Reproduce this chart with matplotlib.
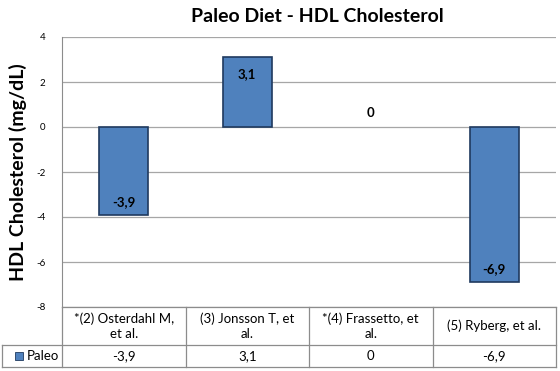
import numpy as np
import matplotlib as mpl
mpl.use('Agg')
from matplotlib import pyplot as plt
from matplotlib.lines import Line2D
from matplotlib.patches import Rectangle

mpl.rcParams['font.family'] = ['Lato', 'DejaVu Sans']

studies = ['*(2) Osterdahl M,\net al.', '(3) Jonsson T, et\nal.', '*(4) Frassetto, et\nal.', '(5) Ryberg, et al.']
paleo = [-3.9, 3.1, 0.0, -6.9]
yticks = [-8, -6, -4, -2, 0, 2, 4]

W, H = 560, 371
def fx(px): return px / W
def fy(py): return 1 - py / H

def fmt(v):
	return '0' if v == 0 else ('%.1f' % v).replace('.', ',')

fig = plt.figure(figsize=(5.6, 3.71), dpi=100)
left, right, top, bottom = 62, 556, 37, 307
ax = fig.add_axes([fx(left), fy(bottom), fx(right - left), (bottom - top) / H])

x = np.arange(len(paleo))
bars = ax.bar(x, paleo, width=0.4, color='#4f81bd', edgecolor='#1f3a5f', lw=1.2, zorder=3)
for b, v in zip(bars, paleo):
	xc = b.get_x() + b.get_width()/2
	if v == 0:
		b.set_linewidth(0)
		off = 14
	elif v > 0:
		off = -17
	else:
		off = 13
	ax.annotate(fmt(v), (xc, v), xytext=(0, off), textcoords='offset pixels',
		ha='center', va='center', fontsize=9.5, fontweight='bold', zorder=4)

ax.set_xlim(-0.5, len(paleo) - 0.5)
ax.set_ylim(-8, 4)
ax.set_yticks(yticks)
ax.set_yticklabels([str(t) for t in yticks], fontsize=7)
ax.tick_params(axis='y', length=0, pad=12)
ax.set_xticks([])
ax.yaxis.grid(True, color='#a6a6a6', lw=0.9)
ax.set_axisbelow(True)
for s in ['top', 'right', 'bottom']:
	ax.spines[s].set_visible(False)
ax.spines['left'].set_color('#8c8c8c')

fig.text(fx(317), fy(16), 'Paleo Diet - HDL Cholesterol', ha='center', va='center', fontsize=14, fontweight='bold')
fig.text(fx(18), fy(172), 'HDL Cholesterol (mg/dL)', ha='center', va='center', rotation=90, fontsize=14, fontweight='bold')

# data table below the plot
row1, row2, row3 = 307, 345, 367
colw = (right - left) / len(paleo)
lc = '#8c8c8c'
def hline(y, x0, x1):
	fig.add_artist(Line2D([fx(x0), fx(x1)], [fy(y), fy(y)], color=lc, lw=0.9))
def vline(xp, y0, y1):
	fig.add_artist(Line2D([fx(xp), fx(xp)], [fy(y0), fy(y1)], color=lc, lw=0.9))

hline(row1, left, right)
hline(row2, 2, right)
hline(row3, 2, right)
vline(2, row2, row3)
vline(left, row1, row3)
for i in range(len(paleo)):
	xr = left + (i + 1) * colw
	vline(xr, row1, row3)
	xc = left + (i + 0.5) * colw
	fig.text(fx(xc), fy((row1 + row2) / 2), studies[i], ha='center', va='center', fontsize=9.5, linespacing=1.35)
	fig.text(fx(xc), fy((row2 + row3) / 2), fmt(paleo[i]), ha='center', va='center', fontsize=9.5)

fig.add_artist(Rectangle((fx(15), fy(360)), fx(8), 8 / H, facecolor='#4f81bd', edgecolor='#1f3a5f', lw=0.6))
fig.text(fx(27), fy(356), 'Paleo', ha='left', va='center', fontsize=9.5)

plt.savefig('out.png', dpi=100)
